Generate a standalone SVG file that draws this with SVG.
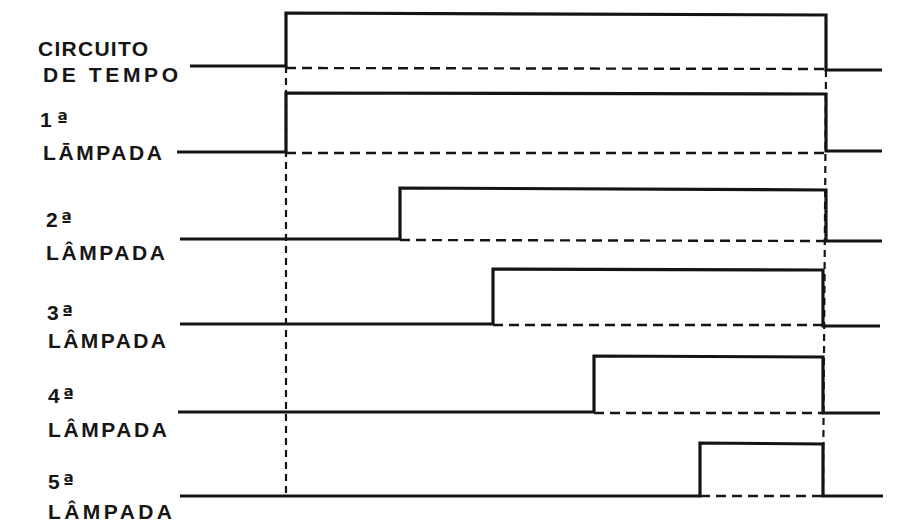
<svg xmlns="http://www.w3.org/2000/svg" width="906" height="522" viewBox="0 0 906 522">
<style>
.bg{fill:#ffffff}
.sig{fill:none;stroke:#141414;stroke-width:3.2;stroke-linejoin:miter;stroke-linecap:butt}
.base{fill:none;stroke:#141414;stroke-width:2.4;stroke-dasharray:10 6}
.ref{fill:none;stroke:#141414;stroke-width:2.2;stroke-dasharray:7 5}
.lbl{font-family:"Liberation Sans","DejaVu Sans",Arial,sans-serif;font-size:21px;font-weight:bold;fill:#161616}
.ord{font-family:"DejaVu Sans","Liberation Sans",sans-serif;font-size:20px;font-weight:bold}
</style>
<rect class="bg" x="0" y="0" width="906" height="522"/>
<g id="connectors">
  <line class="ref" x1="286" y1="66" x2="286" y2="496"/>
  <line class="ref" x1="826" y1="70" x2="823" y2="496"/>
</g>
<g id="circuito">
  <text class="lbl" x="38" y="56" textLength="110" lengthAdjust="spacing">CIRCUITO</text>
  <text class="lbl" x="43" y="82" textLength="135" lengthAdjust="spacing">DE TEMPO</text>
  <line class="base" x1="286" y1="68" x2="826" y2="69"/>
  <polyline class="sig" points="190,66 286,66 286,13 826,15 826,70 882,70"/>
</g>
<g id="lampada1">
  <text class="lbl" x="40" y="127">1<tspan class="ord" dx="5">ª</tspan></text>
  <text class="lbl" x="43" y="160" textLength="119" lengthAdjust="spacing">LĀMPADA</text>
  <line class="base" x1="286" y1="153" x2="826" y2="153"/>
  <polyline class="sig" points="177,152 286,152 286,93 826,94 826,151 882,151"/>
</g>
<g id="lampada2">
  <text class="lbl" x="46" y="227">2<tspan class="ord" dx="3">ª</tspan></text>
  <text class="lbl" x="46" y="260" textLength="119" lengthAdjust="spacing">LÂMPADA</text>
  <line class="base" x1="400" y1="240" x2="826" y2="241"/>
  <polyline class="sig" points="180,239 400,239 400,188 826,190 826,241 882,241"/>
</g>
<g id="lampada3">
  <text class="lbl" x="47" y="320">3<tspan class="ord" dx="3">ª</tspan></text>
  <text class="lbl" x="48" y="348" textLength="118" lengthAdjust="spacing">LÂMPADA</text>
  <line class="base" x1="493" y1="325" x2="823" y2="325"/>
  <polyline class="sig" points="180,324 493,324 493,269 823,270 823,326 880,326"/>
</g>
<g id="lampada4">
  <text class="lbl" x="48" y="403">4<tspan class="ord" dx="3">ª</tspan></text>
  <text class="lbl" x="48" y="437" textLength="119" lengthAdjust="spacing">LÂMPADA</text>
  <line class="base" x1="594" y1="413" x2="823" y2="413"/>
  <polyline class="sig" points="178,412 594,412 594,356 823,357 823,413 880,413"/>
</g>
<g id="lampada5">
  <text class="lbl" x="48" y="489">5<tspan class="ord" dx="3">ª</tspan></text>
  <text class="lbl" x="48" y="519" textLength="124" lengthAdjust="spacing">LÂMPADA</text>
  <line class="base" x1="700" y1="496" x2="823" y2="496"/>
  <polyline class="sig" points="180,496 700,496 700,443 823,444 823,496 883,496"/>
</g>
</svg>
